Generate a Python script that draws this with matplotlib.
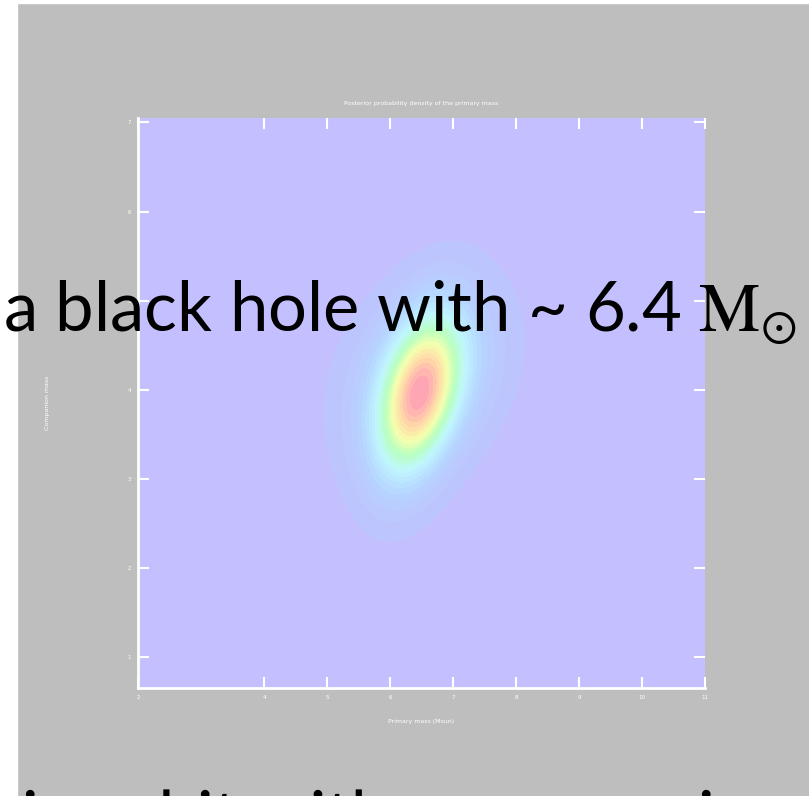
import numpy as np
import matplotlib
matplotlib.use('Agg')
import matplotlib.pyplot as plt
from matplotlib.colors import LinearSegmentedColormap
from matplotlib.textpath import TextPath
from matplotlib.font_manager import FontProperties
from matplotlib.patches import PathPatch
from matplotlib.transforms import Affine2D

# Posterior for the compact object: primary mass vs companion mass
x_lim = [2.0, 11.0]
y_lim = [0.65, 7.05]
x_ticks = [2, 4, 5, 6, 7, 8, 9, 10, 11]
y_ticks = [1, 2, 3, 4, 5, 6, 7]

# core and halo components of the density (centre, sigmas, correlation, weight)
core_centre = [6.45, 3.9]
core_sigma = [0.45, 0.62]
core_rho = 0.40
halo_centre = [6.55, 4.15]
halo_sigma = [0.74, 0.64]
halo_rho = 0.28
halo_weight = 0.40

title_text = 'Posterior probability density of the primary mass'
xlabel_text = 'Primary mass (Msun)'
ylabel_text = 'Companion mass'
slide_line = r'a black hole with ~ 6.4 $\mathrm{M}_{\odot}$'
next_line = 'in orbit with a companion star'

bg = '#bebebe'
panel = '#c4c0ff'

plt.rcParams['mathtext.fontset'] = 'stix'


def gauss2d(X, Y, c, s, rho):
    dx = (X - c[0]) / s[0]
    dy = (Y - c[1]) / s[1]
    q = (dx**2 - 2*rho*dx*dy + dy**2) / (1 - rho**2)
    return np.exp(-0.5*q)


xs = np.linspace(x_lim[0], x_lim[1], 400)
ys = np.linspace(y_lim[0], y_lim[1], 400)
X, Y = np.meshgrid(xs, ys)
Z = gauss2d(X, Y, core_centre, core_sigma, core_rho) + halo_weight*gauss2d(X, Y, halo_centre, halo_sigma, halo_rho)
Z = Z / Z.max()

cmap = LinearSegmentedColormap.from_list('pastel_jet', [
    (0.00, panel),
    (0.06, '#bcc6ff'),
    (0.20, '#b6d4ff'),
    (0.38, '#bff6ff'),
    (0.55, '#b9ffc0'),
    (0.70, '#f6ffae'),
    (0.85, '#ffd6a8'),
    (1.00, '#ff9fb6'),
])

fig = plt.figure(figsize=(8.09, 7.96), dpi=100)
fig.patch.set_facecolor(bg)
# white slide margin on the left and top
fig.patches.append(plt.Rectangle((0, 0), 17/809, 1, transform=fig.transFigure, color='white', zorder=0))
fig.patches.append(plt.Rectangle((0, 1 - 3/796), 1, 3/796, transform=fig.transFigure, color='white', zorder=0))

ax = fig.add_axes([138/809, 108/796, 567/809, 570/796])
ax.set_facecolor(panel)
ax.contourf(X, Y, Z, levels=np.linspace(0.03, 1.0, 24), cmap=cmap, vmin=0.0, vmax=1.0, extend='min')
ax.set_xlim(x_lim)
ax.set_ylim(y_lim)

for side in ['top', 'right']:
    ax.spines[side].set_visible(False)
for side in ['left', 'bottom']:
    ax.spines[side].set_color('white')
    ax.spines[side].set_linewidth(2)

ax.set_xticks(x_ticks)
ax.set_yticks(y_ticks)
ax.tick_params(direction='in', length=8, width=1.5, colors='white', top=True, right=True,
               labelsize=4, pad=5)
ax.set_title(title_text, color='white', fontsize=4.5, pad=9)
ax.set_xlabel(xlabel_text, color='white', fontsize=4.5, labelpad=14)
ax.set_ylabel(ylabel_text, color='white', fontsize=4.5, labelpad=56)

fig.text(3/809, (796 - 332)/796, slide_line, fontsize=49.5, family=['Lato', 'DejaVu Sans'],
         color='black', va='baseline', ha='left')

# next slide line: drawn as a path so that only the tops of tall letters
# show at the bottom edge
tp = TextPath((0, 0), next_line, size=49.5*100/72, prop=FontProperties(family='Lato'))
fig.patches.append(PathPatch(tp, transform=Affine2D().translate(22, -44), color='black', lw=0))

fig.savefig('out.png', dpi=100, facecolor=fig.get_facecolor())
